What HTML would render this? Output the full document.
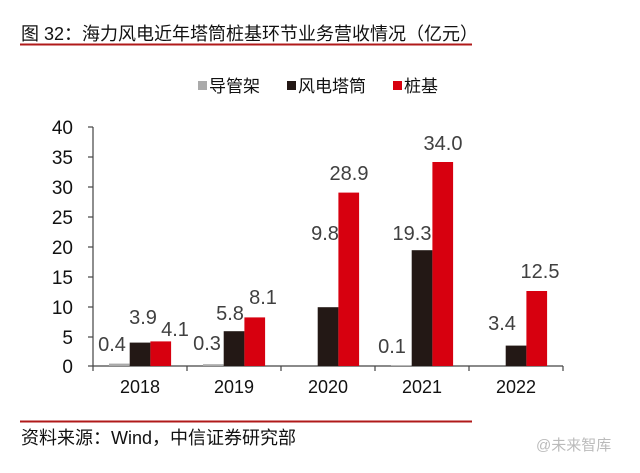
<!DOCTYPE html>
<html><head><meta charset="utf-8"><style>
body{margin:0;background:#fff;width:640px;height:473px;overflow:hidden}
svg{display:block}
text{font-family:"Liberation Sans","Noto Sans CJK SC",sans-serif}
</style></head><body>
<svg width="640" height="473" viewBox="0 0 640 473">
<text x="21" y="40" font-size="18" fill="#111">图 32：海力风电近年塔筒桩基环节业务营收情况（亿元）</text>
<rect x="20" y="43.5" width="452" height="2" fill="#b01a1a"/>
<rect x="198" y="81" width="9" height="9" fill="#aaa"/>
<text x="209" y="92" font-size="17" fill="#111">导管架</text>
<rect x="287" y="81" width="9" height="9" fill="#231815"/>
<text x="298" y="92" font-size="17" fill="#111">风电塔筒</text>
<rect x="393" y="81" width="9" height="9" fill="#d7000f"/>
<text x="404" y="92" font-size="17" fill="#111">桩基</text>
<g font-size="19" fill="#111" text-anchor="end">
<text x="73" y="134">40</text><text x="73" y="164">35</text><text x="73" y="194">30</text><text x="73" y="224">25</text><text x="73" y="254">20</text><text x="73" y="284">15</text><text x="73" y="314">10</text><text x="73" y="344">5</text><text x="73" y="373">0</text>
</g>
<g stroke="#444" stroke-width="1.2">
<line x1="93" y1="127" x2="93" y2="366"/>
<line x1="88" y1="127" x2="93" y2="127"/><line x1="88" y1="157" x2="93" y2="157"/><line x1="88" y1="187" x2="93" y2="187"/><line x1="88" y1="217" x2="93" y2="217"/><line x1="88" y1="247" x2="93" y2="247"/><line x1="88" y1="277" x2="93" y2="277"/><line x1="88" y1="307" x2="93" y2="307"/><line x1="88" y1="337" x2="93" y2="337"/><line x1="88" y1="366" x2="93" y2="366"/>
<line x1="93" y1="366" x2="563" y2="366"/>
<line x1="93" y1="366" x2="93" y2="371"/><line x1="187" y1="366" x2="187" y2="371"/><line x1="281" y1="366" x2="281" y2="371"/><line x1="375" y1="366" x2="375" y2="371"/><line x1="469" y1="366" x2="469" y2="371"/><line x1="563" y1="366" x2="563" y2="371"/>
</g>
<g>
<rect x="109" y="363.6" width="20.7" height="2.4" fill="#aaa"/>
<rect x="129.7" y="342.6" width="20.7" height="23.4" fill="#231815"/>
<rect x="150.4" y="341.4" width="20.7" height="24.6" fill="#d7000f"/>
<rect x="203" y="364.2" width="20.7" height="1.8" fill="#aaa"/>
<rect x="223.7" y="331.2" width="20.7" height="34.8" fill="#231815"/>
<rect x="244.4" y="317.4" width="20.7" height="48.6" fill="#d7000f"/>
<rect x="317.7" y="307.2" width="20.7" height="58.8" fill="#231815"/>
<rect x="338.4" y="192.6" width="20.7" height="173.4" fill="#d7000f"/>
<rect x="391" y="365.4" width="20.7" height="0.6" fill="#aaa"/>
<rect x="411.7" y="250.2" width="20.7" height="115.8" fill="#231815"/>
<rect x="432.4" y="162" width="20.7" height="204" fill="#d7000f"/>
<rect x="505.7" y="345.6" width="20.7" height="20.4" fill="#231815"/>
<rect x="526.4" y="291" width="20.7" height="75" fill="#d7000f"/>
</g>
<g font-size="20" fill="#404040" text-anchor="middle">
<text x="112" y="351">0.4</text><text x="143" y="324">3.9</text><text x="175" y="336">4.1</text>
<text x="207" y="350">0.3</text><text x="230" y="320">5.8</text><text x="263" y="304">8.1</text>
<text x="325" y="240">9.8</text><text x="349" y="180">28.9</text>
<text x="392" y="353">0.1</text><text x="412" y="240">19.3</text><text x="443" y="150">34.0</text>
<text x="502" y="330">3.4</text><text x="540" y="278">12.5</text>
</g>
<g font-size="18" fill="#111" text-anchor="middle">
<text x="140" y="393">2018</text><text x="234" y="393">2019</text><text x="328" y="393">2020</text><text x="422" y="393">2021</text><text x="516" y="393">2022</text>
</g>
<rect x="20" y="420.5" width="452" height="2" fill="#b01a1a"/>
<text x="21" y="444" font-size="18" fill="#111">资料来源：Wind，中信证券研究部</text>
<text x="536" y="450" font-size="15" fill="#bbb">@未来智库</text>
</svg>
</body></html>
